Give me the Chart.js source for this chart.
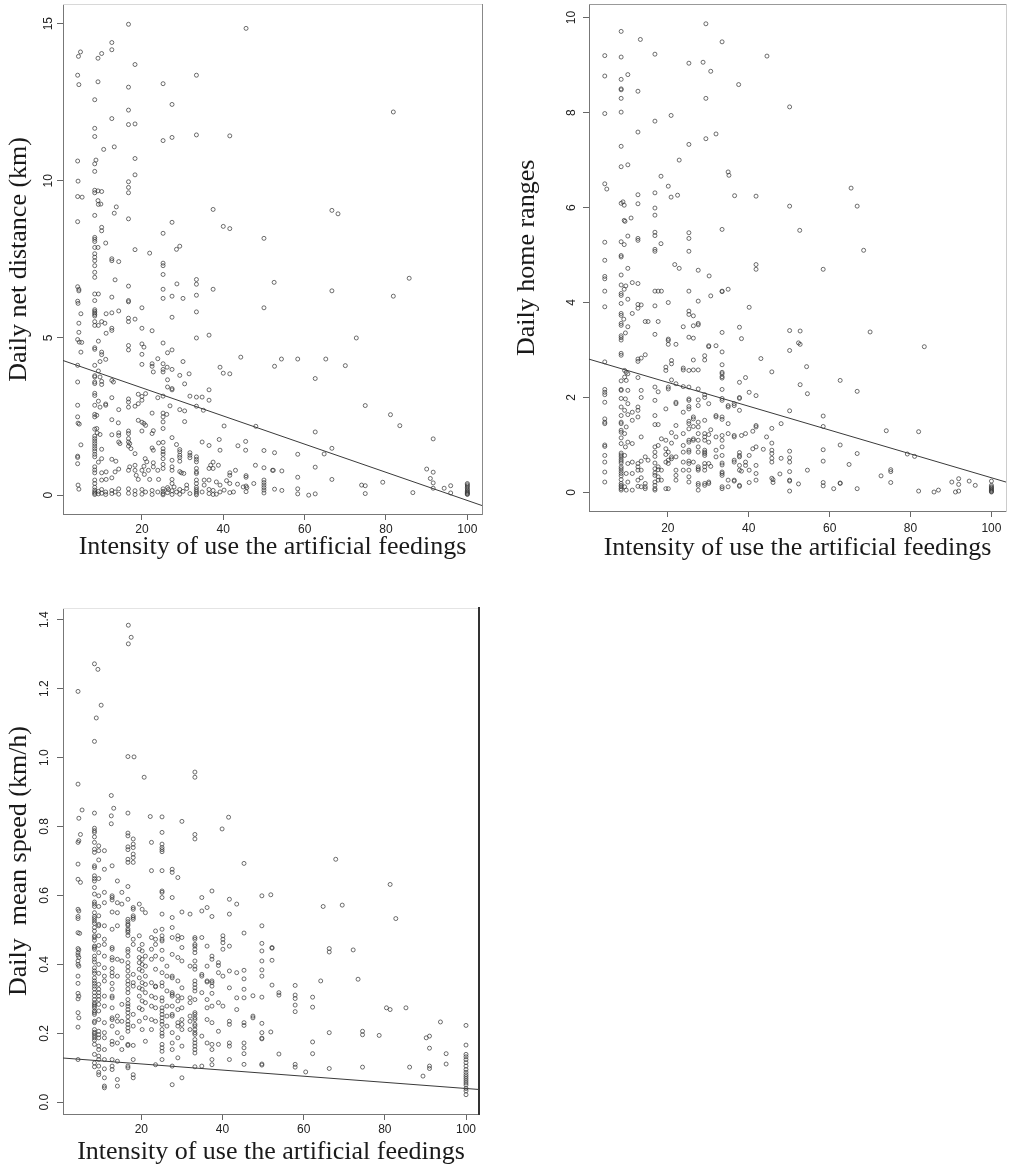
<!DOCTYPE html>
<html><head><meta charset="utf-8">
<script src="https://cdn.jsdelivr.net/npm/chart.js@4.4.1/dist/chart.umd.min.js"></script>
<style>
html,body{margin:0;padding:0;background:#fff;}
#wrap{position:relative;width:1014px;height:1172px;background:#fff;}
.panel{position:absolute;}
</style></head><body>
<div id="wrap">
<div class="panel" style="left:0;top:0"><canvas id="c1" width="507" height="580"></canvas></div>
<div class="panel" style="left:507px;top:0"><canvas id="c2" width="507" height="580"></canvas></div>
<div class="panel" style="left:0;top:580px"><canvas id="c3" width="507" height="592"></canvas></div>
</div>
<script>
// ---------- DATA ----------
const xLabel = "Intensity of use the artificial feedings";
const distanceLabel = "Daily net distance (km)";
const homeRangeLabel = "Daily home ranges";
const speedLabel = "Daily  mean speed (km/h)";

const xTicks = [20, 40, 60, 80, 100];
const distanceTicks = [0, 5, 10, 15];
const homeRangeTicks = [0, 2, 4, 6, 8, 10];
const speedTicks = [0, 0.2, 0.4, 0.6, 0.8, 1.0, 1.2, 1.4];

// fitted regression lines: [intercept, slope]
const distanceFit = [4.31, -0.0448];
const homeRangeFit = [2.82, -0.0251];
const speedFit = [0.129, -0.00089];

// points grouped by intensity value: [x, [y values]]
const distanceCols = [
[4.2,[13.36,10.63,9.5,8.7,6.63,6.17,4.95,4.13,3.6,2.86,2.49,1.24,1.2,1.0]],
[4.3,[9.99,6.1,2.29,0.32]],[4.4,[13.96]],[4.5,[13.06,6.55,6.5,5.47,5.18,0.19]],[4.6,[4.87,2.26]],
[4.9,[14.1]],[5.0,[5.77,4.55,1.6]],[5.2,[4.86]],[5.3,[9.48]],
[8.4,[12.58,11.67,11.41,10.54,10.3,9.7,9.62,8.9,8.2,8.14,8.07,7.88,7.68,7.57,7.46,7.3,7.09,6.93,6.4,6.19,5.9,5.85,5.8,5.75,5.7,5.52,5.4,4.69,4.64,4.13,3.8,3.76,3.6,3.55,3.24,3.17,2.86,2.57,2.49,2.1,1.88,1.8,1.72,1.64,1.56,1.48,1.4,1.3,1.22,0.9,0.8,0.71,0.48,0.37,0.25,0.16,0.1,0.06,0.02]],
[8.7,[10.66]],[8.9,[2.54,2.12]],[9.0,[1.98]],[9.2,[13.9,13.15,9.68,9.37,7.88]],
[9.3,[9.25,6.4,5.4,4.9,3.95,2.99,1.05,0.12,0.04]],[9.7,[4.25,3.76,2.8,1.93]],[9.9,[9.26]],
[10.1,[14.05,9.66,8.52,8.41,5.52,4.55,4.47,3.62,3.52,1.46,1.16,0.71,0.48,0.18,0.06]],
[10.6,[11.0]],[10.9,[5.47]],[11.1,[8.02,4.32,2.9,2.86,0.1,0.02]],[11.2,[5.77,5.15,0.74,0.5]],
[12.6,[14.4,14.17,11.98,7.52,7.46,6.3,5.8,5.31,5.24,3.65,3.1,2.4,1.92,1.14,0.55,0.15,0.05]],
[13.0,[3.6]],[13.2,[11.08,8.97]],[13.4,[6.85,0.74,0.1]],[13.6,[1.08]],[13.7,[9.17]],[14.2,[2.3]],
[14.3,[7.43,5.86,2.72,1.98,1.9,1.69,0.83,0.2,0.03]],[14.6,[1.64]],
[16.7,[14.98,12.98,12.25,11.79,9.97,9.79,9.62,8.79,6.65,6.19,6.15,5.63,5.52,4.76,4.62,3.06,2.96,2.8,2.04,1.96,1.8,1.69,1.56,0.79,0.2,0.06]],
[17.0,[1.64,0.9]],[17.3,[1.48]],[18.3,[13.7,11.81,10.71,10.19,7.81,5.6,2.83,1.32,0.95,0.79,0.14,0.02]],
[18.6,[0.63]],[19.1,[3.21,2.91,2.38,0.5]],
[20.0,[5.96,5.31,4.81,4.48,4.16,3.14,3.02,2.32,2.04,0.79,0.18,0.03]],
[20.5,[4.71,2.28,0.92]],[20.6,[0.66]],[20.8,[1.16]],[20.9,[3.23,2.22,0.1]],[21.2,[1.06]],[21.6,[0.79]],
[21.9,[7.7,0.5]],[22.5,[5.23,4.18,4.1,2.61,1.96,1.5,0.15,0.02]],[22.8,[3.92,2.05,1.43,1.03,0.9]],
[23.9,[4.34,3.1,0.79,0.1]],[24.1,[1.66,0.5]],
[25.2,[13.09,11.28,8.33,7.38,7.3,7.02,6.55,6.26,4.84,4.18,4.0,3.92,3.15,2.61,2.49,2.33,2.12,1.68,1.48,1.38,1.3,1.16,0.98,0.85,0.2,0.12,0.05,0.01]],
[26.1,[2.57]],[26.2,[4.07]],[26.3,[4.53,3.67,3.44,0.24,0.08]],[26.5,[0.18]],[26.9,[2.84]],
[27.4,[12.43,11.38,8.68,6.33,5.66,4.62,4.0,3.39,3.35,1.83,1.11,0.9,0.79,0.5,0.37,0.14,0.02]],
[27.9,[0.26]],[28.5,[7.82,1.61,0.1]],[28.6,[6.72]],
[29.3,[7.92,3.81,2.72,1.45,1.38,1.27,1.2,1.08,0.75,0.18,0.03]],[29.7,[0.71]],[30.1,[6.26,4.25,0.12]],
[30.3,[0.69]],[30.5,[3.54,2.68,2.34]],[31.0,[0.32,0.21]],[31.6,[3.86]],[31.8,[3.15,1.35,1.27,1.19,0.05]],
[33.4,[13.36,11.46,6.86,6.71,6.36,5.83,5.0,3.12,2.83,1.22,1.14,1.06,0.85,0.74,0.69,0.48,0.37,0.25,0.18,0.12,0.06,0.01]],
[34.8,[3.12,1.69,0.1]],[35.1,[2.7]],[35.3,[0.48,0.32]],[36.5,[5.09,3.35,3.02,1.58,0.85,0.48,0.18,0.05]],
[36.9,[0.95]],[37.5,[9.09,6.55,1.05,0.85,0.15,0.02]],[38.3,[0.42,0.03]],[38.8,[0.95]],[39.0,[1.77]],
[39.2,[4.07,1.43,0.32,0.1]],[40.0,[8.55,3.88]],[40.2,[2.2,0.16]],[40.8,[0.46]],
[41.6,[11.43,8.48,3.86,0.71,0.63,0.37,0.08]],[42.5,[0.1]],[43.0,[0.79]],[43.5,[0.35]],[43.6,[1.57]],
[44.3,[4.39]],[44.9,[0.26]],[45.5,[1.71,1.43]],[45.6,[14.85,0.62,0.57,0.29,0.11]],[45.8,[0.24]],
[47.5,[0.37]],[47.9,[0.95]],[48.0,[2.19]],[50.0,[8.17,5.96,1.42,0.87,0.48,0.4,0.32,0.24,0.16,0.07]],
[52.1,[0.79]],[52.3,[0.79]],[52.5,[6.77]],[52.6,[4.1,1.35,0.19]],[54.3,[4.33]],[54.4,[0.77,0.15]],
[58.3,[4.33,1.3,0.57,0.2,0.04]],[61.0,[0.0]],[62.6,[3.71,2.01,0.89,0.04]],[64.8,[1.31]],[65.2,[4.33]],
[66.7,[9.06,6.5,1.49,0.5]],[68.2,[8.95]],[70.0,[4.12]],[72.7,[5.0]],[74.0,[0.32]],[74.9,[2.85,0.3,0.05]],
[79.2,[0.41]],[81.1,[2.56]],[81.8,[12.19,6.33]],[83.4,[2.21]],[85.7,[6.9]],[86.6,[0.08]],[90.0,[0.83]],
[90.9,[0.53]],[91.6,[1.79,0.73,0.39,0.22]],[94.3,[0.22]],[95.9,[0.3,0.07]],
[100,[0.37,0.33,0.29,0.25,0.2,0.16,0.12,0.09,0.06,0.04,0.02]]
];

const homeRangeCols = [
[4.4,[9.2,8.77,7.98,6.5,5.27,4.89,4.55,4.5,4.24,3.91,2.75,2.17,2.11,2.06,1.9,1.55,1.48,1.45,1.0,0.97,0.78,0.64,0.43,0.22]],
[4.9,[6.39]],
[8.45,[9.71,9.17,8.7,8.5,8.48,8.3,8.01,7.29,6.86,6.09,5.28,4.99,4.96,4.58,4.37,4.19,4.15,3.98,3.77,3.73,3.56,3.52,3.3,3.26,3.21,2.93,2.89,2.35,2.17,2.15,1.98,1.8,1.62,1.48,1.45,1.31,1.27,1.15,1.03,0.83,0.79,0.75,0.7,0.66,0.62,0.54,0.5,0.45,0.4,0.35,0.27,0.19,0.15,0.12,0.08,0.05]],
[8.9,[6.12]],[9.1,[3.65]],[9.2,[6.05,5.73,5.22,4.28]],[9.3,[2.57,2.43,1.73,1.24,0.78,0.12]],[9.4,[5.71]],
[9.5,[3.36,1.97,0.96]],[9.6,[4.35]],[9.7,[2.53,2.36,1.38,0.4,0.05]],
[10.1,[8.8,6.9,5.4,4.72,4.07,3.49,2.5,2.15,1.87,1.64,1.06,0.61,0.22]],[10.9,[5.78]],
[11.2,[4.42,3.77,1.69,1.52,1.03,0.64,0.4,0.05]],
[12.6,[8.45,7.59,6.27,6.08,5.35,5.31,4.4,3.96,3.88,2.81,2.76,2.42,1.8,1.73,1.59,0.61,0.54,0.47,0.26,0.13]],
[13.2,[9.54]],[13.4,[3.95,2.83,2.15,2.0,1.17,0.66,0.47,0.31,0.12]],[14.4,[3.6,2.9,0.75,0.19,0.12,0.08]],
[15.1,[3.6,0.68]],
[16.8,[9.23,7.82,6.31,5.99,5.84,5.48,5.41,5.12,5.08,4.24,3.93,3.33,2.22,1.94,1.62,1.43,0.96,0.85,0.76,0.62,0.5,0.41,0.36,0.22,0.15,0.08,0.05]],
[17.6,[4.24,3.6,2.12,1.43,0.99,0.54,0.48,0.33,0.26]],[18.3,[6.66,5.24]],[18.4,[4.24,1.13,0.47,0.26]],
[19.5,[2.64,2.57,1.76,1.1,0.92,0.8,0.64,0.08]],
[20.1,[6.45,4.0,3.23,3.2,3.12,2.22,2.18,0.85,0.68,0.61,0.08]],[20.8,[7.94,6.22]],
[20.9,[2.78,2.71,2.37,1.26,1.04,0.75,0.71]],[21.7,[4.8]],
[22.0,[3.12,2.29,1.9,1.87,1.41,1.17,0.75,0.47,0.36,0.26]],[22.4,[6.26]],[22.8,[7.0,4.72]],
[23.8,[3.49,2.62,2.58,2.23,1.69,1.24,0.99,0.85,0.64,0.47]],
[25.2,[9.04,7.33,5.47,5.35,5.08,4.24,3.82,3.75,3.27,2.57,2.22,1.97,1.94,1.81,1.76,1.5,1.45,1.34,1.1,1.06,0.89,0.85,0.66,0.61,0.47,0.33,0.22]],
[26.3,[3.72,3.51,3.25,2.79,2.58,1.59,1.55,1.39,1.13,1.1,0.64]],
[27.5,[4.68,4.03,3.56,3.53,2.58,2.18,1.95,1.83,1.48,1.38,1.24,1.1,0.96,0.85,0.54,0.5,0.47,0.19,0.15,0.05]],
[28.7,[9.06]],
[29.1,[2.88,2.79,2.06,2.0,1.52,1.24,1.17,1.1,0.89,0.85,0.82,0.78,0.61,0.54,0.47,0.19,0.15]],
[29.4,[9.87,8.3,7.45]],[30.1,[3.09,3.07,1.87,1.22,1.06,0.61,0.22,0.19]],[30.2,[4.56]],
[30.6,[8.87,4.14,1.32,0.55]],[31.9,[7.55,3.09,1.62,1.59,1.17,0.89,0.75]],
[33.4,[9.49,5.54,4.24,4.23,3.37,2.96,2.69,2.53,2.5,2.44,2.41,2.17,1.98,1.94,1.59,1.54,1.2,1.1,0.96,0.78,0.62,0.58,0.43,0.4,0.36,0.12,0.08]],
[34.9,[6.75,4.28,1.83,1.8,1.45,1.24,0.26,0.12]],[35.1,[6.68]],
[36.4,[1.87,1.83,1.2,1.17,0.68,0.64,0.26,0.24]],[36.5,[6.25]],[37.5,[8.59]],
[37.7,[3.48,2.32,2.0,1.98,1.73,0.84,0.78,0.75,0.57,0.47,0.15,0.13]],[38.2,[3.24,1.2,0.45]],
[39.2,[2.42,1.24,0.64,0.57]],[40.1,[3.9,2.11,0.78,0.47,0.21]],[41.0,[1.29,0.92]],
[41.8,[6.24,4.8,4.7,2.04,1.41,1.38,0.96,0.57,0.4,0.26]],[43.0,[2.82]],[43.6,[0.91]],[44.4,[1.17]],
[44.5,[9.19]],[45.7,[2.54,1.35,1.04,0.89,0.82,0.72,0.64,0.3]],[46.0,[0.27,0.21]],[47.7,[0.39]],
[48.0,[1.45,0.72]],[50.1,[8.12,6.03,3.41,2.99,1.72,0.87,0.73,0.64,0.44,0.26,0.24,0.03]],
[52.3,[3.15,0.18]],[52.6,[5.52]],[52.7,[3.4,3.12,2.27]],[54.3,[2.65]],[54.5,[2.08,0.47]],
[58.4,[4.7,1.61,1.39,0.9,0.66,0.21,0.14]],[61.0,[0.08]],[62.6,[2.36,1.0,0.2,0.19]],[64.8,[0.59]],
[65.3,[6.41]],[66.8,[6.03,2.13,0.82,0.08]],[68.4,[5.1]],[70.0,[3.38]],[72.7,[0.35]],[74.0,[1.3]],
[75.1,[0.48,0.44,0.21]],[79.2,[0.81]],[81.0,[0.76]],[82.0,[1.28,0.03]],[83.4,[3.07]],[85.8,[0.01]],
[86.9,[0.05]],[90.2,[0.22]],[91.1,[0.01]],[91.9,[0.29,0.17,0.03]],[94.5,[0.24]],[96.0,[0.15]],
[100,[0.24,0.15,0.12,0.1,0.08,0.06,0.04,0.02,0.01]]
];

const speedCols = [
[4.4,[1.192,0.923,0.754,0.691,0.647,0.56,0.539,0.533,0.492,0.446,0.434,0.427,0.41,0.4,0.366,0.345,0.316,0.3,0.26,0.218,0.124]],
[4.6,[0.824,0.759,0.555,0.442,0.42,0.395,0.308,0.245]],[4.8,[0.49]],[5.0,[0.777,0.638]],[5.4,[0.848]],
[8.45,[1.272,1.047,0.839,0.795,0.788,0.783,0.77,0.754,0.734,0.725,0.686,0.681,0.657,0.649,0.642,0.623,0.604,0.581,0.575,0.568,0.55,0.539,0.533,0.526,0.519,0.507,0.497,0.483,0.478,0.47,0.453,0.449,0.444,0.424,0.415,0.407,0.39,0.381,0.374,0.361,0.352,0.345,0.337,0.329,0.318,0.308,0.298,0.289,0.284,0.279,0.274,0.265,0.26,0.255,0.235,0.231,0.211,0.203,0.199,0.193,0.187,0.18,0.168,0.139,0.114,0.103]],
[8.9,[1.115]],[9.3,[1.256]],
[9.5,[0.744,0.73,0.703,0.649,0.599,0.568,0.541,0.516,0.512,0.483,0.455,0.434,0.4,0.374,0.342,0.328,0.318,0.308,0.298,0.284,0.265,0.24,0.206,0.196,0.187,0.163,0.153,0.134,0.124,0.105,0.087,0.08]],
[10.1,[1.152]],
[10.9,[0.73,0.676,0.609,0.579,0.512,0.473,0.458,0.424,0.39,0.366,0.352,0.308,0.279,0.231,0.202,0.187,0.153,0.124,0.097,0.071,0.047,0.042]],
[12.6,[0.89,0.831,0.808]],
[12.8,[0.686,0.599,0.594,0.587,0.552,0.502,0.449,0.444,0.42,0.413,0.388,0.376,0.366,0.345,0.328,0.308,0.303,0.274,0.245,0.24,0.221,0.177,0.168,0.124,0.105,0.095]],
[13.2,[0.853]],[14.1,[0.642,0.579,0.55,0.512,0.415,0.366,0.25,0.235,0.202,0.172,0.119,0.066,0.047]],
[15.2,[0.609,0.575,0.41,0.284,0.235,0.187,0.153]],
[16.7,[1.003,0.839,0.781,0.773,0.741,0.733,0.705,0.696,0.626,0.589,0.531,0.524,0.517,0.513,0.503,0.498,0.493,0.484,0.444,0.437,0.424,0.405,0.393,0.381,0.366,0.352,0.342,0.329,0.318,0.298,0.286,0.279,0.269,0.26,0.248,0.235,0.226,0.216,0.206,0.168,0.165,0.105,0.1]],
[16.8,[1.384,1.33]],[17.5,[1.349]],
[18.0,[0.764,0.749,0.739,0.72,0.71,0.696,0.565,0.56,0.541,0.536,0.531,0.473,0.458,0.371,0.347,0.337,0.255,0.221,0.165,0.124,0.08,0.071]],
[18.2,[1.002]],[19.5,[0.575,0.483,0.444,0.42,0.405,0.386,0.361,0.332,0.308,0.274,0.235]],
[20.2,[0.56,0.458,0.439,0.415,0.4,0.381,0.347,0.328,0.294,0.269,0.211]],[20.7,[0.943]],
[21.0,[0.55,0.424,0.395,0.366,0.342,0.318,0.289,0.245,0.177]],[22.2,[0.829]],
[22.5,[0.754,0.672,0.478,0.444,0.415,0.347,0.308,0.279,0.24,0.211]],
[23.5,[0.497,0.473,0.458,0.424,0.386,0.337,0.335,0.303,0.274,0.235,0.109]],
[25.1,[0.828,0.783,0.749,0.739,0.733,0.727,0.672,0.613,0.609,0.594,0.546,0.502,0.483,0.473,0.468,0.441,0.415,0.376,0.347,0.337,0.303,0.294,0.274,0.265,0.255,0.245,0.235,0.226,0.211,0.2,0.192,0.168,0.158,0.148,0.124]],
[26.3,[0.395,0.366,0.323,0.279,0.25,0.221]],
[27.6,[0.676,0.667,0.594,0.536,0.507,0.478,0.429,0.366,0.361,0.318,0.313,0.308,0.279,0.255,0.25,0.202,0.172,0.153,0.105,0.051]],
[29.0,[0.652,0.483,0.473,0.42,0.352,0.308,0.294,0.269,0.231,0.221,0.187,0.129]],
[30.0,[0.815,0.552,0.478,0.449,0.41,0.332,0.303,0.274,0.24,0.226,0.211,0.163,0.071]],
[32.0,[0.546,0.395,0.303,0.289,0.25,0.235,0.211]],
[33.2,[0.958,0.943,0.777,0.764,0.478,0.473,0.458,0.453,0.444,0.434,0.41,0.395,0.386,0.352,0.342,0.332,0.323,0.298,0.26,0.255,0.245,0.24,0.226,0.221,0.211,0.202,0.197,0.182,0.172,0.163,0.153,0.143,0.103]],
[34.9,[0.594,0.555,0.478,0.371,0.366,0.318,0.192,0.105]],
[36.2,[0.565,0.453,0.395,0.352,0.349,0.298,0.274,0.24,0.172]],
[37.4,[0.613,0.539,0.424,0.415,0.352,0.347,0.337,0.316,0.279,0.231,0.168,0.153,0.124,0.109]],
[39.0,[0.405,0.397,0.376,0.289,0.206,0.168]],[39.9,[0.793]],[40.1,[0.483,0.473,0.463,0.444,0.366,0.279]],
[41.5,[0.827]],[41.7,[0.589,0.546,0.453,0.381,0.332,0.235,0.226,0.172,0.163,0.124]],
[43.5,[0.575,0.376,0.303,0.269]],
[45.3,[0.693,0.491,0.383,0.358,0.328,0.303,0.231,0.223,0.172,0.158,0.141,0.11]],
[47.5,[0.309,0.25,0.245]],
[49.7,[0.599,0.512,0.461,0.439,0.41,0.384,0.366,0.305,0.229,0.202,0.186,0.184,0.111,0.108]],
[51.9,[0.602,0.204]],[52.2,[0.449,0.447,0.412,0.34]],[53.9,[0.318,0.311,0.14]],
[57.9,[0.339,0.311,0.301,0.282,0.263,0.11,0.102]],[60.5,[0.088]],[62.2,[0.305,0.276,0.175,0.141]],
[64.2,[0.352]],[64.8,[0.568]],[66.3,[0.446,0.436,0.202,0.098]],[67.9,[0.705]],[69.5,[0.572]],
[72.2,[0.442]],[73.4,[0.357]],[74.5,[0.206,0.196,0.102]],[78.6,[0.194]],[80.4,[0.274]],
[81.3,[0.632,0.269]],[82.7,[0.533]],[85.2,[0.274]],[86.1,[0.102]],[89.4,[0.076]],[90.2,[0.187]],
[91.0,[0.192,0.157,0.105,0.098]],[93.7,[0.233]],[95.1,[0.141,0.111]],
[100,[0.223,0.166,0.139,0.132,0.124,0.115,0.105,0.095,0.087,0.08,0.074,0.068,0.062,0.056,0.05,0.04,0.033,0.022]]
];

// ---------- RENDERING ----------
function expand(cols) {
  const out = [];
  cols.forEach(([x, ys]) => ys.forEach(y => out.push({x: x, y: y})));
  return out;
}

function makePanel(id, cols, fit, yTicks, yTitle, g) {
  const lineData = [g.xmin, g.xmax].map(x => ({x: x, y: fit[0] + fit[1] * x}));
  const tickFont = {family: 'Liberation Sans', size: 12};
  const titleFont = {family: 'Liberation Serif', size: 26};
  const zeroPad = s => { s.paddingTop = 0; s.paddingBottom = 0; s.paddingLeft = 0; s.paddingRight = 0; };
  new Chart(document.getElementById(id), {
    type: 'scatter',
    data: {
      datasets: [
        {type: 'scatter', data: expand(cols), xAxisID: 'x', yAxisID: 'y',
         pointStyle: 'circle', pointRadius: 2, borderWidth: 0.8,
         borderColor: 'rgba(55,55,55,0.9)', backgroundColor: 'rgba(0,0,0,0)', order: 2},
        {type: 'line', data: lineData, xAxisID: 'x', yAxisID: 'y', showLine: true,
         borderColor: '#3a3a3a', borderWidth: 1, pointRadius: 0, fill: false, order: 1}
      ]
    },
    options: {
      responsive: false, animation: false, events: [],
      layout: {padding: {left: 0, top: g.top, right: g.right, bottom: 0}},
      plugins: {legend: {display: false}, tooltip: {enabled: false}},
      scales: {
        x: {
          type: 'linear', position: 'bottom', min: g.xmin, max: g.xmax,
          afterBuildTicks: s => { s.ticks = xTicks.map(v => ({value: v})); },
          afterFit: s => { s.height = g.xh; zeroPad(s); },
          grid: {display: true, drawOnChartArea: false, drawTicks: true, tickLength: 6, tickColor: '#666', tickWidth: 1},
          border: {display: true, color: '#777', width: 1},
          ticks: {font: tickFont, color: '#222', padding: g.xtp, maxRotation: 0, autoSkip: false},
          title: {display: true, text: xLabel, font: titleFont, color: '#1a1a1a', padding: {top: 0, bottom: g.xtitle}}
        },
        y: {
          type: 'linear', position: 'left', min: g.ymin, max: g.ymax,
          afterBuildTicks: s => { s.ticks = yTicks.map(v => ({value: v})); },
          afterFit: s => { s.width = g.yw; zeroPad(s); },
          grid: {display: true, drawOnChartArea: false, drawTicks: true, tickLength: 6, tickColor: '#666', tickWidth: 1},
          border: {display: true, color: '#777', width: 1},
          ticks: {font: tickFont, color: '#222', padding: g.ytp, minRotation: 90, maxRotation: 90,
                  crossAlign: 'center', autoSkip: false,
                  callback: v => g.dec ? v.toFixed(g.dec) : String(v)},
          title: {display: true, text: yTitle, font: titleFont, color: '#1a1a1a', padding: {top: g.ytitle, bottom: 0}}
        },
        xTop: {
          type: 'linear', position: 'top', display: true,
          ticks: {display: false}, grid: {display: false},
          border: {display: true, color: g.topColor, width: 1},
          afterFit: s => { s.height = 0; zeroPad(s); }
        },
        yRight: {
          type: 'linear', position: 'right', display: true,
          ticks: {display: false}, grid: {display: false},
          border: {display: true, color: g.rightColor, width: g.rightWidth},
          afterFit: s => { s.width = 0; zeroPad(s); }
        }
      }
    }
  });
}

makePanel('c1', distanceCols, distanceFit, distanceTicks, distanceLabel,
  {xmin: 0.6, xmax: 103.6, ymin: -0.6, ymax: 15.6, top: 4, right: 25, yw: 63, xh: 66,
   xtp: 2, ytp: 2, xtitle: 17, ytitle: 4, dec: 0, topColor: '#d8d8d8', rightColor: '#888', rightWidth: 1});
makePanel('c2', homeRangeCols, homeRangeFit, homeRangeTicks, homeRangeLabel,
  {xmin: 0.5, xmax: 103.6, ymin: -0.39, ymax: 10.27, top: 3, right: 8, yw: 82, xh: 69,
   xtp: 4.5, ytp: 5, xtitle: 16, ytitle: 5, dec: 0, topColor: '#999', rightColor: '#ccc', rightWidth: 1});
makePanel('c3', speedCols, speedFit, speedTicks, speedLabel,
  {xmin: 0.7, xmax: 103.2, ymin: -0.034, ymax: 1.434, top: 28, right: 28, yw: 63, xh: 58,
   xtp: 2, ytp: 3.7, xtitle: 4, ytitle: 4, dec: 1, topColor: '#e4e4e4', rightColor: '#333', rightWidth: 2});
</script>
</body></html>
